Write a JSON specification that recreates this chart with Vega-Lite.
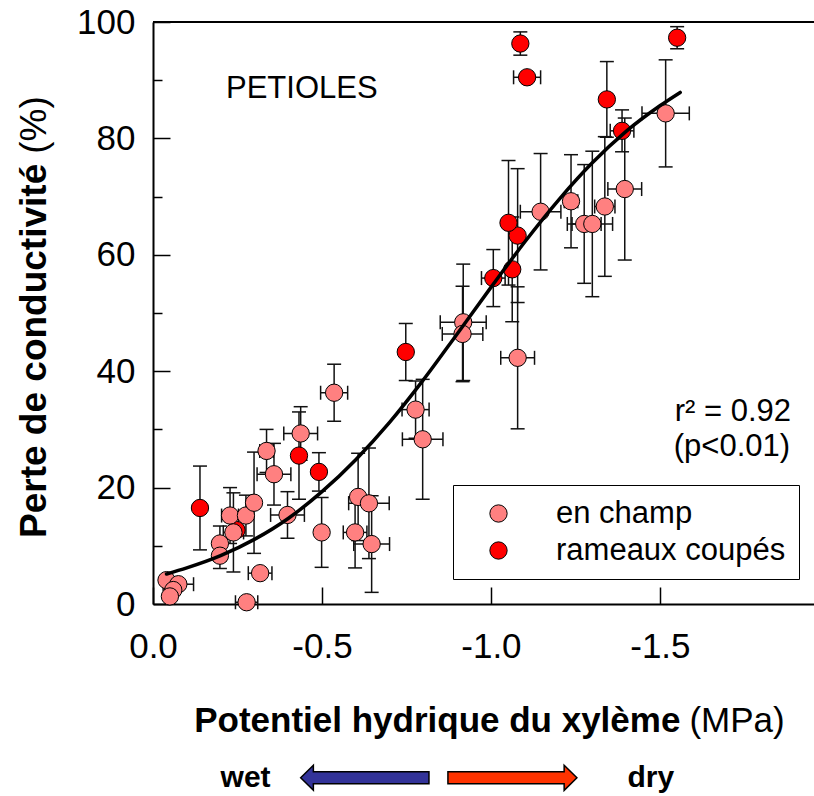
{
  "$schema": "https://vega.github.io/schema/vega-lite/v6.json",
  "autosize": {"type": "none"},
  "padding": {"left": 153, "top": 22, "right": 0, "bottom": 192},
  "width": 661,
  "height": 582,
  "config": {
    "view": {"stroke": null},
    "font": "Liberation Sans"
  },
  "datasets": {
    "pts": [
      {"psi": -0.247, "plc": 12.7, "groupe": "rameaux coupés"},
      {"psi": -0.04, "plc": 4.1, "groupe": "en champ"},
      {"psi": -0.075, "plc": 3.4, "xlo": -0.12, "xhi": -0.03, "groupe": "en champ"},
      {"psi": -0.06, "plc": 2.4, "groupe": "en champ"},
      {"psi": -0.05, "plc": 1.3, "groupe": "en champ"},
      {"psi": -0.277, "plc": 0.3, "xlo": -0.31, "xhi": -0.244, "groupe": "en champ"},
      {"psi": -0.317, "plc": 5.3, "xlo": -0.352, "xhi": -0.282, "groupe": "en champ"},
      {"psi": -0.198, "plc": 10.4, "ylo": 7.4, "yhi": 13.4, "groupe": "en champ"},
      {"psi": -0.198, "plc": 8.3, "ylo": 6.1, "yhi": 10.5, "groupe": "en champ"},
      {"psi": -0.228, "plc": 15.2, "ylo": 10.4, "yhi": 20.0, "xlo": -0.253, "xhi": -0.203, "groupe": "en champ"},
      {"psi": -0.238, "plc": 12.3, "ylo": 5.5, "yhi": 19.1, "xlo": -0.268, "xhi": -0.208, "groupe": "en champ"},
      {"psi": -0.275, "plc": 15.2, "ylo": 11.7, "yhi": 18.7, "groupe": "en champ"},
      {"psi": -0.299, "plc": 17.4, "ylo": 8.7, "yhi": 26.1, "groupe": "en champ"},
      {"psi": -0.336, "plc": 26.3, "ylo": 22.6, "yhi": 30.0, "xlo": -0.356, "xhi": -0.316, "groupe": "en champ"},
      {"psi": -0.358, "plc": 22.3, "ylo": 17.0, "yhi": 27.6, "xlo": -0.408, "xhi": -0.308, "groupe": "en champ"},
      {"psi": -0.398, "plc": 15.3, "ylo": 11.3, "yhi": 19.3, "xlo": -0.448, "xhi": -0.348, "groupe": "en champ"},
      {"psi": -0.437, "plc": 29.3, "ylo": 24.7, "yhi": 33.9, "xlo": -0.487, "xhi": -0.387, "groupe": "en champ"},
      {"psi": -0.536, "plc": 36.3, "ylo": 31.4, "yhi": 41.2, "xlo": -0.576, "xhi": -0.496, "groupe": "en champ"},
      {"psi": -0.499, "plc": 12.3, "ylo": 6.3, "yhi": 18.3, "groupe": "en champ"},
      {"psi": -0.607, "plc": 18.4, "ylo": 10.9, "yhi": 25.9, "groupe": "en champ"},
      {"psi": -0.639, "plc": 17.3, "ylo": 7.8, "yhi": 26.8, "xlo": -0.699, "xhi": -0.579, "groupe": "en champ"},
      {"psi": -0.598, "plc": 12.3, "ylo": 6.2, "yhi": 18.4, "xlo": -0.633, "xhi": -0.563, "groupe": "en champ"},
      {"psi": -0.647, "plc": 10.3, "ylo": 2.0, "yhi": 18.6, "xlo": -0.7, "xhi": -0.594, "groupe": "en champ"},
      {"psi": -0.777, "plc": 33.4, "ylo": 28.5, "yhi": 38.3, "xlo": -0.817, "xhi": -0.737, "groupe": "en champ"},
      {"psi": -0.798, "plc": 28.3, "ylo": 18.0, "yhi": 38.6, "xlo": -0.858, "xhi": -0.738, "groupe": "en champ"},
      {"psi": -0.918, "plc": 48.4, "ylo": 38.4, "yhi": 58.4, "xlo": -0.986, "xhi": -0.85, "groupe": "en champ"},
      {"psi": -0.916, "plc": 46.4, "ylo": 38.2, "yhi": 54.6, "xlo": -0.976, "xhi": -0.856, "groupe": "en champ"},
      {"psi": -1.079, "plc": 42.3, "ylo": 30.1, "yhi": 54.5, "xlo": -1.129, "xhi": -1.029, "groupe": "en champ"},
      {"psi": -1.147, "plc": 67.4, "ylo": 57.4, "yhi": 77.4, "xlo": -1.207, "xhi": -1.087, "groupe": "en champ"},
      {"psi": -1.237, "plc": 69.2, "ylo": 61.2, "yhi": 77.2, "xlo": -1.257, "xhi": -1.217, "groupe": "en champ"},
      {"psi": -1.276, "plc": 65.3, "ylo": 55.1, "yhi": 75.5, "xlo": -1.326, "xhi": -1.226, "groupe": "en champ"},
      {"psi": -1.3, "plc": 65.3, "ylo": 52.8, "yhi": 77.8, "xlo": -1.36, "xhi": -1.24, "groupe": "en champ"},
      {"psi": -1.337, "plc": 68.3, "ylo": 56.3, "yhi": 80.3, "xlo": -1.367, "xhi": -1.307, "groupe": "en champ"},
      {"psi": -1.396, "plc": 71.3, "ylo": 59.1, "yhi": 83.5, "xlo": -1.446, "xhi": -1.346, "groupe": "en champ"},
      {"psi": -1.517, "plc": 84.3, "ylo": 75.1, "yhi": 93.5, "xlo": -1.587, "xhi": -1.447, "groupe": "en champ"},
      {"psi": -0.139, "plc": 16.5, "ylo": 9.3, "yhi": 23.7, "groupe": "rameaux coupés"},
      {"psi": -0.432, "plc": 25.5, "ylo": 18.0, "yhi": 33.0, "groupe": "rameaux coupés"},
      {"psi": -0.491, "plc": 22.7, "ylo": 19.4, "yhi": 26.0, "groupe": "rameaux coupés"},
      {"psi": -0.748, "plc": 43.3, "ylo": 38.4, "yhi": 48.2, "groupe": "rameaux coupés"},
      {"psi": -1.007, "plc": 56.0, "ylo": 51.1, "yhi": 60.9, "xlo": -1.042, "xhi": -0.972, "groupe": "rameaux coupés"},
      {"psi": -1.063, "plc": 57.5, "ylo": 48.5, "yhi": 66.5, "groupe": "rameaux coupés"},
      {"psi": -1.079, "plc": 63.3, "ylo": 51.8, "yhi": 74.8, "groupe": "rameaux coupés"},
      {"psi": -1.052, "plc": 65.5, "ylo": 54.8, "yhi": 76.2, "groupe": "rameaux coupés"},
      {"psi": -1.087, "plc": 96.3, "ylo": 94.3, "yhi": 98.3, "groupe": "rameaux coupés"},
      {"psi": -1.107, "plc": 90.5, "xlo": -1.147, "xhi": -1.067, "groupe": "rameaux coupés"},
      {"psi": -1.343, "plc": 86.7, "ylo": 80.2, "yhi": 93.2, "groupe": "rameaux coupés"},
      {"psi": -1.388, "plc": 81.3, "ylo": 77.7, "yhi": 84.9, "xlo": -1.423, "xhi": -1.353, "groupe": "rameaux coupés"},
      {"psi": -1.551, "plc": 97.3, "ylo": 95.4, "yhi": 99.2, "groupe": "rameaux coupés"}
    ],
    "fit": [
      {"psi": -0.04, "plc": 5.15},
      {"psi": -0.1, "plc": 6.2},
      {"psi": -0.2, "plc": 8.3},
      {"psi": -0.3, "plc": 11.1},
      {"psi": -0.4, "plc": 14.7},
      {"psi": -0.5, "plc": 19.3},
      {"psi": -0.6, "plc": 24.8},
      {"psi": -0.7, "plc": 31.2},
      {"psi": -0.8, "plc": 38.5},
      {"psi": -0.9, "plc": 46.4},
      {"psi": -1.0, "plc": 54.4},
      {"psi": -1.1, "plc": 62.2},
      {"psi": -1.2, "plc": 69.4},
      {"psi": -1.3, "plc": 75.8},
      {"psi": -1.4, "plc": 81.2},
      {"psi": -1.5, "plc": 85.6},
      {"psi": -1.56, "plc": 87.9}
    ]
  },
  "layer": [
    {
      "data": {"values": [{}]},
      "mark": {"type": "rule", "color": "black", "strokeWidth": 2},
      "encoding": {
        "y": {"datum": 100, "type": "quantitative", "scale": {"domain": [0, 100], "nice": false, "zero": false}, "axis": null}
      }
    },
    {
      "data": {"name": "pts"},
      "transform": [{"filter": "isValid(datum.ylo)"}],
      "mark": {"type": "rule", "color": "#111", "strokeWidth": 1.5},
      "encoding": {
        "x": {"field": "psi", "type": "quantitative", "scale": {"domain": [0, -1.956], "nice": false, "zero": false}, "axis": null},
        "y": {"field": "ylo", "type": "quantitative", "scale": {"domain": [0, 100], "nice": false, "zero": false}, "axis": null},
        "y2": {"field": "yhi"}
      }
    },
    {
      "data": {"name": "pts"},
      "transform": [{"filter": "isValid(datum.ylo)"}],
      "mark": {"type": "tick", "orient": "horizontal", "size": 14, "thickness": 1.5, "color": "#111", "opacity": 1},
      "encoding": {
        "x": {"field": "psi", "type": "quantitative", "scale": {"domain": [0, -1.956], "nice": false, "zero": false}, "axis": null},
        "y": {"field": "ylo", "type": "quantitative", "scale": {"domain": [0, 100], "nice": false, "zero": false}, "axis": null}
      }
    },
    {
      "data": {"name": "pts"},
      "transform": [{"filter": "isValid(datum.yhi)"}],
      "mark": {"type": "tick", "orient": "horizontal", "size": 14, "thickness": 1.5, "color": "#111", "opacity": 1},
      "encoding": {
        "x": {"field": "psi", "type": "quantitative", "scale": {"domain": [0, -1.956], "nice": false, "zero": false}, "axis": null},
        "y": {"field": "yhi", "type": "quantitative", "scale": {"domain": [0, 100], "nice": false, "zero": false}, "axis": null}
      }
    },
    {
      "data": {"name": "pts"},
      "transform": [{"filter": "isValid(datum.xlo)"}],
      "mark": {"type": "rule", "color": "#111", "strokeWidth": 1.5},
      "encoding": {
        "x": {"field": "xlo", "type": "quantitative", "scale": {"domain": [0, -1.956], "nice": false, "zero": false}, "axis": null},
        "x2": {"field": "xhi"},
        "y": {"field": "plc", "type": "quantitative", "scale": {"domain": [0, 100], "nice": false, "zero": false}, "axis": null}
      }
    },
    {
      "data": {"name": "pts"},
      "transform": [{"filter": "isValid(datum.xlo)"}],
      "mark": {"type": "tick", "orient": "vertical", "size": 14, "thickness": 1.5, "color": "#111", "opacity": 1},
      "encoding": {
        "x": {"field": "xlo", "type": "quantitative", "scale": {"domain": [0, -1.956], "nice": false, "zero": false}, "axis": null},
        "y": {"field": "plc", "type": "quantitative", "scale": {"domain": [0, 100], "nice": false, "zero": false}, "axis": null}
      }
    },
    {
      "data": {"name": "pts"},
      "transform": [{"filter": "isValid(datum.xhi)"}],
      "mark": {"type": "tick", "orient": "vertical", "size": 14, "thickness": 1.5, "color": "#111", "opacity": 1},
      "encoding": {
        "x": {"field": "xhi", "type": "quantitative", "scale": {"domain": [0, -1.956], "nice": false, "zero": false}, "axis": null},
        "y": {"field": "plc", "type": "quantitative", "scale": {"domain": [0, 100], "nice": false, "zero": false}, "axis": null}
      }
    },
    {
      "data": {"name": "pts"},
      "mark": {"type": "circle", "size": 300, "stroke": "black", "strokeWidth": 1, "opacity": 1},
      "encoding": {
        "x": {
          "field": "psi", "type": "quantitative",
          "scale": {"domain": [0, -1.956], "nice": false, "zero": false},
          "axis": {
            "orient": "bottom", "values": [0, -0.5, -1, -1.5],
            "labelExpr": "replace(format(datum.value, '.1f'), '\u2212', '-')",
            "title": null, "grid": false,
            "tickSize": -17, "tickWidth": 1.5, "tickColor": "black",
            "domainColor": "black", "domainWidth": 2,
            "labelFontSize": 35, "labelColor": "black", "labelPadding": 42,
            "labelFlush": false, "labelOverlap": false
          }
        },
        "y": {
          "field": "plc", "type": "quantitative",
          "scale": {"domain": [0, 100], "nice": false, "zero": false},
          "axis": {
            "orient": "left", "values": [0, 10, 20, 30, 40, 50, 60, 70, 80, 90, 100],
            "labelExpr": "datum.value % 20 === 0 ? datum.label : ''",
            "tickSize": {"condition": {"test": "datum.value % 20 === 0", "value": -17}, "value": -9},
            "title": null, "grid": false,
            "tickWidth": 1.5, "tickColor": "black",
            "domainColor": "black", "domainWidth": 2,
            "labelFontSize": 35, "labelColor": "black", "labelPadding": 35,
            "labelOverlap": false
          }
        },
        "color": {
          "field": "groupe", "type": "nominal",
          "scale": {"domain": ["en champ", "rameaux coupés"], "range": ["#FF8080", "#FF0000"]},
          "legend": {
            "orient": "none", "legendX": 300, "legendY": 463, "title": null,
            "strokeColor": "black", "fillColor": "white", "padding": 13,
            "symbolType": "circle", "symbolSize": 300, "symbolStrokeColor": "black", "symbolStrokeWidth": 1,
            "symbolOpacity": 1, "symbolOffset": 17, "labelOffset": 42, "labelLimit": 0,
            "labelFontSize": 31, "labelColor": "black", "rowPadding": 5
          }
        }
      }
    },
    {
      "data": {"name": "fit"},
      "mark": {"type": "line", "color": "black", "strokeWidth": 3.5, "interpolate": "monotone", "strokeCap": "round"},
      "encoding": {
        "x": {"field": "psi", "type": "quantitative", "scale": {"domain": [0, -1.956], "nice": false, "zero": false}, "axis": null},
        "y": {"field": "plc", "type": "quantitative", "scale": {"domain": [0, 100], "nice": false, "zero": false}, "axis": null}
      }
    },
    {
      "data": {"values": [{}]},
      "mark": {"type": "text", "text": "PETIOLES", "align": "left", "baseline": "alphabetic", "fontSize": 31, "color": "black"},
      "encoding": {
        "x": {"datum": -0.216, "type": "quantitative", "scale": {"domain": [0, -1.956], "nice": false, "zero": false}, "axis": null},
        "y": {"datum": 86.9, "type": "quantitative", "scale": {"domain": [0, 100], "nice": false, "zero": false}, "axis": null}
      }
    },
    {
      "data": {"values": [{}]},
      "mark": {"type": "text", "text": "r² = 0.92", "align": "left", "baseline": "alphabetic", "fontSize": 31, "color": "black"},
      "encoding": {
        "x": {"datum": -1.544, "type": "quantitative", "scale": {"domain": [0, -1.956], "nice": false, "zero": false}, "axis": null},
        "y": {"datum": 31.4, "type": "quantitative", "scale": {"domain": [0, 100], "nice": false, "zero": false}, "axis": null}
      }
    },
    {
      "data": {"values": [{}]},
      "mark": {"type": "text", "text": "(p<0.01)", "align": "left", "baseline": "alphabetic", "fontSize": 31, "color": "black"},
      "encoding": {
        "x": {"datum": -1.541, "type": "quantitative", "scale": {"domain": [0, -1.956], "nice": false, "zero": false}, "axis": null},
        "y": {"datum": 25.35, "type": "quantitative", "scale": {"domain": [0, 100], "nice": false, "zero": false}, "axis": null}
      }
    },
    {
      "data": {"values": [{}]},
      "mark": {"type": "text", "text": "Perte de conductivité", "angle": 270, "align": "right", "dx": -5, "baseline": "middle", "fontSize": 37, "fontWeight": "bold", "color": "black"},
      "encoding": {
        "x": {"datum": 0.349, "type": "quantitative", "scale": {"domain": [0, -1.956], "nice": false, "zero": false}, "axis": null},
        "y": {"datum": 76.5, "type": "quantitative", "scale": {"domain": [0, 100], "nice": false, "zero": false}, "axis": null}
      }
    },
    {
      "data": {"values": [{}]},
      "mark": {"type": "text", "text": "(%)", "angle": 270, "align": "left", "dx": 5, "baseline": "middle", "fontSize": 37, "color": "black"},
      "encoding": {
        "x": {"datum": 0.349, "type": "quantitative", "scale": {"domain": [0, -1.956], "nice": false, "zero": false}, "axis": null},
        "y": {"datum": 76.5, "type": "quantitative", "scale": {"domain": [0, 100], "nice": false, "zero": false}, "axis": null}
      }
    },
    {
      "data": {"values": [{}]},
      "mark": {"type": "text", "text": "Potentiel hydrique du xylème", "align": "right", "dx": -4, "baseline": "alphabetic", "fontSize": 35, "fontWeight": "bold", "color": "black"},
      "encoding": {
        "x": {"datum": -1.5725, "type": "quantitative", "scale": {"domain": [0, -1.956], "nice": false, "zero": false}, "axis": null},
        "y": {"datum": -22.03, "type": "quantitative", "scale": {"domain": [0, 100], "nice": false, "zero": false}, "axis": null}
      }
    },
    {
      "data": {"values": [{}]},
      "mark": {"type": "text", "text": "(MPa)", "align": "left", "dx": 5, "baseline": "alphabetic", "fontSize": 35, "color": "black"},
      "encoding": {
        "x": {"datum": -1.5725, "type": "quantitative", "scale": {"domain": [0, -1.956], "nice": false, "zero": false}, "axis": null},
        "y": {"datum": -22.03, "type": "quantitative", "scale": {"domain": [0, 100], "nice": false, "zero": false}, "axis": null}
      }
    },
    {
      "data": {"values": [{}]},
      "mark": {"type": "text", "text": "wet", "align": "center", "baseline": "alphabetic", "fontSize": 30, "fontWeight": "bold", "color": "black"},
      "encoding": {
        "x": {"datum": -0.274, "type": "quantitative", "scale": {"domain": [0, -1.956], "nice": false, "zero": false}, "axis": null},
        "y": {"datum": -31.5, "type": "quantitative", "scale": {"domain": [0, 100], "nice": false, "zero": false}, "axis": null}
      }
    },
    {
      "data": {"values": [{}]},
      "mark": {"type": "text", "text": "dry", "align": "center", "baseline": "alphabetic", "fontSize": 30, "fontWeight": "bold", "color": "black"},
      "encoding": {
        "x": {"datum": -1.473, "type": "quantitative", "scale": {"domain": [0, -1.956], "nice": false, "zero": false}, "axis": null},
        "y": {"datum": -31.5, "type": "quantitative", "scale": {"domain": [0, 100], "nice": false, "zero": false}, "axis": null}
      }
    },
    {
      "data": {"values": [{}]},
      "mark": {"type": "point", "shape": "M-1,0L-0.802,-0.195L-0.802,-0.094L1,-0.094L1,0.094L-0.802,0.094L-0.802,0.195Z", "size": 16461, "filled": true, "fill": "#333399", "stroke": "black", "strokeWidth": 1.5, "opacity": 1},
      "encoding": {
        "x": {"datum": -0.6268, "type": "quantitative", "scale": {"domain": [0, -1.956], "nice": false, "zero": false}, "axis": null},
        "y": {"datum": -29.86, "type": "quantitative", "scale": {"domain": [0, 100], "nice": false, "zero": false}, "axis": null}
      }
    },
    {
      "data": {"values": [{}]},
      "mark": {"type": "point", "shape": "M1,0L0.802,-0.195L0.802,-0.094L-1,-0.094L-1,0.094L0.802,0.094L0.802,0.195Z", "size": 16641, "filled": true, "fill": "#FF3300", "stroke": "black", "strokeWidth": 1.5, "opacity": 1},
      "encoding": {
        "x": {"datum": -1.0636, "type": "quantitative", "scale": {"domain": [0, -1.956], "nice": false, "zero": false}, "axis": null},
        "y": {"datum": -29.86, "type": "quantitative", "scale": {"domain": [0, 100], "nice": false, "zero": false}, "axis": null}
      }
    }
  ],
  "resolve": {"axis": {"x": "independent", "y": "independent"}}
}
